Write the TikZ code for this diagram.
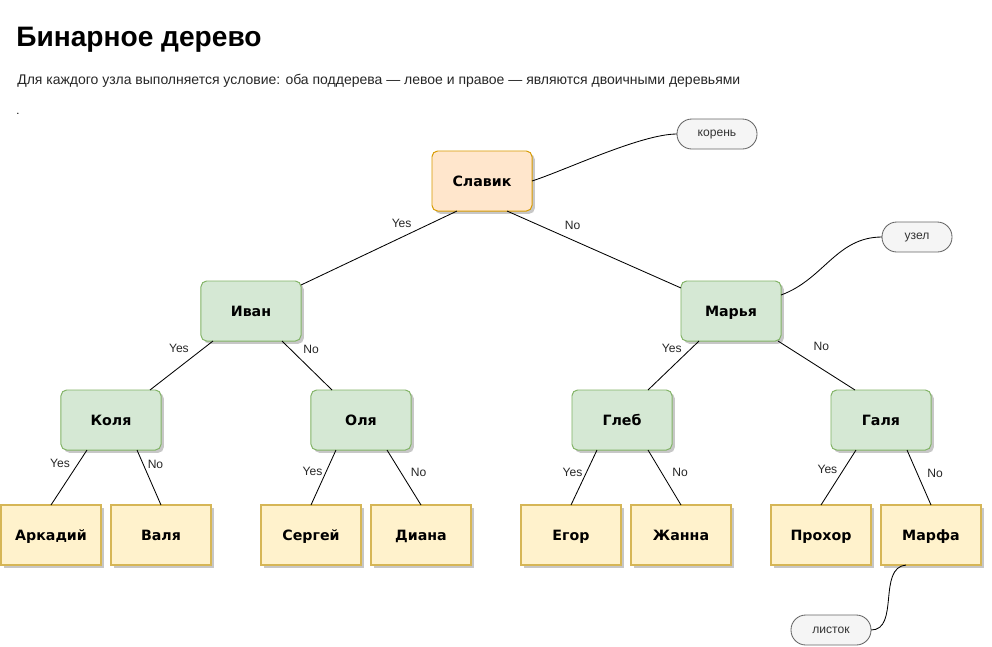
\documentclass[tikz,border=0pt]{standalone}
\usepackage{fontspec}
\setmainfont{Liberation Sans}
\newfontfamily\boxfont{DejaVu Sans}
\usetikzlibrary{positioning,calc,shadows}
\definecolor{rootfill}{HTML}{FFE6CC}
\definecolor{rootline}{HTML}{D79B00}
\definecolor{midfill}{HTML}{D5E8D4}
\definecolor{midline}{HTML}{82B366}
\definecolor{leaffill}{HTML}{FFF2CC}
\definecolor{leafline}{HTML}{D6B656}
\definecolor{notefill}{HTML}{F5F5F5}
\definecolor{noteline}{HTML}{666666}
\definecolor{notetext}{HTML}{333333}

\begin{document}
\begin{tikzpicture}[x=0.025cm, y=-0.025cm,
base/.style={minimum width=2.5cm, minimum height=1.5cm, inner sep=0pt, outer sep=0pt,
  text height=0.9em, text depth=0.1em,
  font=\boxfont\bfseries\fontsize{10.1}{12}\selectfont,
  drop shadow={shadow xshift=2pt, shadow yshift=-2pt, fill=black, opacity=0.22}},
rootbox/.style={base, draw=rootline, fill=rootfill, rounded corners=4pt, line width=0.7pt},
midbox/.style={base, draw=midline, fill=midfill, rounded corners=4pt, line width=0.7pt},
leafbox/.style={base, draw=leafline, fill=leaffill, line width=1.3pt},
pill/.style={draw=noteline, fill=notefill, text=notetext, minimum width=2cm, minimum height=0.75cm,
  rounded corners=0.37cm, inner sep=0pt, outer sep=0pt, line width=0.6pt, font=\fontsize{8.6}{10}\selectfont},
edge/.style={draw=black, line width=0.6pt},
lbl/.style={font=\fontsize{8.6}{10}\selectfont, text=black!85, inner sep=0pt}
]
\useasboundingbox (0,0) rectangle (992,646);

% headings
\node[anchor=base west, font=\bfseries\fontsize{20}{24}\selectfont, inner sep=0pt] (title) at (16,46) {Бинарное дерево};
\node[anchor=base west, font=\fontsize{9.95}{12}\selectfont, text=black!85, inner sep=0pt] (sub) at (17,84)
  {Для каждого узла выполняется условие: оба поддерева — левое и правое — являются двоичными деревьями};
\node[anchor=base west, font=\fontsize{8}{10}\selectfont, inner sep=0pt] (dot) at (16,114) {.};

% tree
\node[rootbox] (slavik) at (482,181) {Славик};

\node[midbox] (ivan)  at (251,311) {Иван};
\node[midbox] (marya) at (731,311) {Марья};

\node[midbox] (kolya) at (111,420) {Коля};
\node[midbox] (olya)  at (361,420) {Оля};
\node[midbox] (gleb)  at (622,420) {Глеб};
\node[midbox] (galya) at (881,420) {Галя};

\node[leafbox] (arkadiy) at (51,535)  {Аркадий};
\node[leafbox] (valya)   at (161,535) {Валя};
\node[leafbox] (sergey)  at (311,535) {Сергей};
\node[leafbox] (diana)   at (421,535) {Диана};
\node[leafbox] (egor)    at (571,535) {Егор};
\node[leafbox] (zhanna)  at (681,535) {Жанна};
\node[leafbox] (prokhor) at (821,535) {Прохор};
\node[leafbox] (marfa)   at (931,535) {Марфа};

% notes
\node[pill] (koren)  at (717,134) {корень};
\node[pill, minimum width=1.75cm] (uzel) at (917,237) {узел};
\node[pill] (listok) at (831,630) {листок};

% edges
\draw[edge] ($(slavik.south)+(-25,0)$) -- node[lbl, pos=0.355, shift={(0,-14)}] {Yes} ($(ivan.east)+(0,-26)$);
\draw[edge] ($(slavik.south)+(25,0)$) -- node[lbl, pos=0.377, shift={(0,-15)}] {No} ($(marya.west)+(0,-23)$);

\draw[edge] ($(ivan.south)+(-38,0)$) -- node[lbl, pos=0.16, shift={(-24,0)}] {Yes} ($(kolya.north)+(39,0)$);
\draw[edge] ($(ivan.south)+(31,0)$) -- node[lbl, pos=0.18, shift={(20,0)}] {No} ($(olya.north)+(-29,0)$);
\draw[edge] ($(marya.south)+(-32,0)$) -- node[lbl, pos=0.16, shift={(-19,0)}] {Yes} ($(gleb.north)+(26,0)$);
\draw[edge] ($(marya.south)+(47,0)$) -- node[lbl, pos=0.12, shift={(34,0)}] {No} ($(galya.north)+(-26,0)$);

\draw[edge] ($(kolya.south)+(-24,0)$) -- node[lbl, pos=0.25, shift={(-18,0)}] {Yes} (arkadiy.north);
\draw[edge] ($(kolya.south)+(26,0)$) -- node[lbl, pos=0.27, shift={(12,0)}] {No} (valya.north);
\draw[edge] ($(olya.south)+(-25,0)$) -- node[lbl, pos=0.38, shift={(-14,0)}] {Yes} (sergey.north);
\draw[edge] ($(olya.south)+(26,0)$) -- node[lbl, pos=0.4, shift={(18,0)}] {No} (diana.north);
\draw[edge] ($(gleb.south)+(-25,0)$) -- node[lbl, pos=0.4, shift={(-14,0)}] {Yes} (egor.north);
\draw[edge] ($(gleb.south)+(26,0)$) -- node[lbl, pos=0.4, shift={(19,0)}] {No} (zhanna.north);
\draw[edge] ($(galya.south)+(-25,0)$) -- node[lbl, pos=0.36, shift={(-16,0)}] {Yes} (prokhor.north);
\draw[edge] ($(galya.south)+(26,0)$) -- node[lbl, pos=0.42, shift={(18,0)}] {No} (marfa.north);

% note links
\draw[edge] (slavik.east) to[out=18, in=180, looseness=0.6] (koren.west);
\draw[edge] ($(marya.east)+(0,-16)$) to[out=20, in=180] (uzel.west);
\draw[edge] ($(marfa.south)+(-25,0)$) to[out=185, in=0] (listok.east);

\end{tikzpicture}
\end{document}
